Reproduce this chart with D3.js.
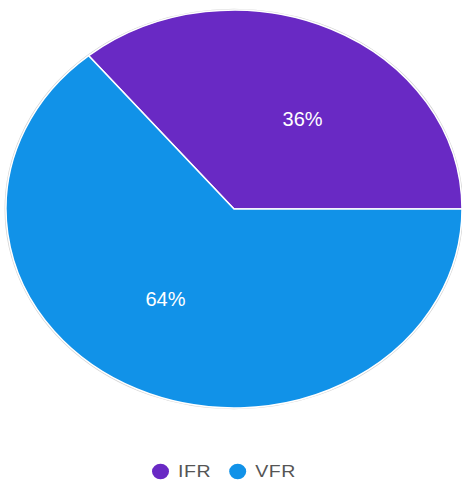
<!DOCTYPE html>
<html>
<head>
<meta charset="utf-8">
<script src="https://cdn.jsdelivr.net/npm/d3@7"></script>
<style>
    body { margin: 0; background: #fff; }
    #chart { width: 462px; height: 486px; }
    text { font-family: "Liberation Sans", Arial, sans-serif; }
</style>
</head>
<body>
<div id="chart"></div>
<script>
// data
const categories = ['IFR', 'VFR'];
const values = [36, 64];
const colors = ['#6929c4', '#1192e8'];

const width = 462, height = 486;
const cx = 234, cy = 209;
const rx = 228, ry = 199;

let data = categories.map((c, i) => ({name: c, value: values[i], color: colors[i]}));

let svg = d3.select('#chart').append('svg')
    .attr('width', width)
    .attr('height', height);

// pie is drawn as a circle then stretched sideways
let sx = rx / ry;
let pieG = svg.append('g')
    .attr('transform', `translate(${cx}, ${cy}) scale(${sx}, 1)`);

let pie = d3.pie()
    .value(d => d.value)
    .startAngle(Math.PI / 2)
    .endAngle(Math.PI * 2.5);

let arc = d3.arc()
    .innerRadius(0)
    .outerRadius(ry);

// faint outline round the edge
pieG.append('circle')
    .attr('r', ry + 0.6)
    .attr('fill', 'none')
    .attr('stroke', '#d4d4d4')
    .attr('stroke-width', 1.5)
    .attr('vector-effect', 'non-scaling-stroke');

let arcs = pie(data);

pieG.selectAll('.slice')
    .data(arcs)
    .enter().append('path')
    .attr('class', 'slice')
    .attr('d', arc)
    .attr('fill', d => d.data.color)
    .attr('stroke', '#fff')
    .attr('stroke-width', 1.5)
    .attr('vector-effect', 'non-scaling-stroke');

// percent labels
let fmt = d3.format('.0f');
let total = d3.sum(values);
svg.append('g')
    .attr('transform', `translate(${cx}, ${cy})`)
    .selectAll('.label')
    .data(arcs)
    .enter().append('text')
    .attr('class', 'label')
    .attr('x', d => arc.centroid(d)[0] * sx)
    .attr('y', d => arc.centroid(d)[1])
    .attr('dy', '0.35em')
    .attr('text-anchor', d => arc.centroid(d)[0] > 0 ? 'start' : 'end')
    .attr('fill', '#fff')
    .attr('font-size', '20px')
    .text(d => fmt(d.data.value / total * 100) + '%');

// legend
let legend = svg.append('g')
    .attr('class', 'legend')
    .attr('transform', `translate(152, 471.5)`);

let xPos = 0;
data.forEach(d => {
    let item = legend.append('g')
        .attr('transform', `translate(${xPos}, 0)`);
    item.append('ellipse')
        .attr('cx', 8.5)
        .attr('cy', 0)
        .attr('rx', 8.5)
        .attr('ry', 7.8)
        .attr('fill', d.color);
    let t = item.append('text')
        .attr('transform', `translate(26, 0) scale(1.15, 1)`)
        .attr('dy', '0.35em')
        .attr('fill', '#555')
        .attr('font-size', '17px')
        .attr('letter-spacing', '0.5px')
        .text(d.name);
    xPos += 26 + t.node().getComputedTextLength() * 1.15 + 18;
});
</script>
</body>
</html>
